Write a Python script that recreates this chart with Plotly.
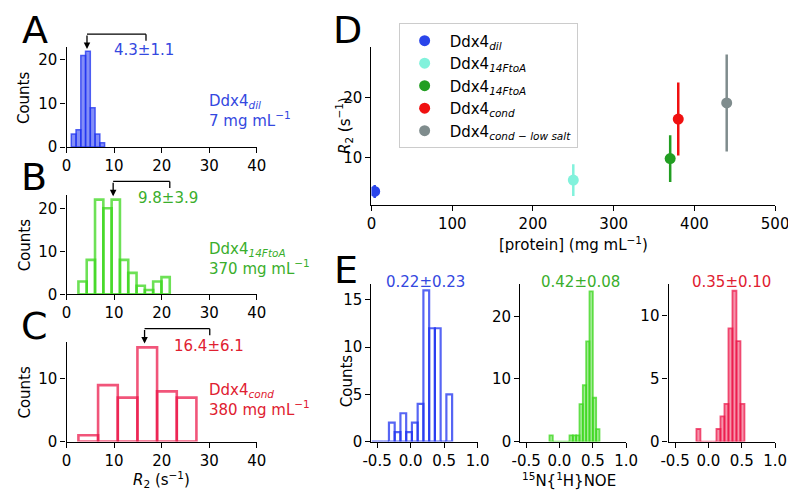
import plotly.graph_objects as go

W, H = 796, 490
FONT = "DejaVu Sans"

# ---------------- data ----------------
# Panel A (Ddx4 dil) R2 histogram
a_edges = [1.0, 2.0, 3.0, 4.0, 5.0, 6.0, 7.0, 8.0]
a_counts = [3, 4, 21, 22, 9, 3, 1]
# Panel B (Ddx4 14FtoA)
b_edges = [2.5, 4.245, 5.99, 7.735, 9.48, 11.225, 12.97, 14.715, 16.46, 18.205, 19.95, 21.695]
b_counts = [3, 8, 22, 20, 22, 8, 5, 2, 1, 3, 4]
# Panel C (Ddx4 cond)
c_edges = [2.5, 6.63, 10.77, 14.9, 19.03, 23.17, 27.3]
c_counts = [1, 9, 7, 15, 8, 7]
# summary stats
r2_means = [4.3, 9.8, 16.4]
r2_sds = [1.1, 3.9, 6.1]
bracket_ends = [16.7, 21.7, 30.1]

# Panel D
d_names = ["Ddx4<sub><i>dil</i></sub>", "Ddx4<sub><i>14FtoA</i></sub>", "Ddx4<sub><i>14FtoA</i></sub>",
           "Ddx4<sub><i>cond</i></sub>", "Ddx4<sub><i>cond − low salt</i></sub>"]
d_conc = [4, 250, 370, 380, 440]
d_r2 = [4.3, 6.2, 9.8, 16.4, 19.1]
d_err = [1.1, 2.65, 3.9, 6.1, 8.1]
d_colors = ["#2a45ea", "#82f2dc", "#229e22", "#f01010", "#7f8c8d"]

# Panel E (hetNOE)
e1_edges = [-0.58 + 0.0857 * i for i in range(15)]
e1_counts = [0, 0, 0, 2, 1, 3, 1, 2, 4, 16, 12, 12, 0, 5]
e2_edges = [-0.15, -0.10, -0.05, 0.0, 0.05, 0.10, 0.15, 0.20, 0.25, 0.30, 0.35, 0.40, 0.45, 0.50, 0.55, 0.60]
e2_counts = [1, 0, 0, 0, 0, 0, 1, 1, 1, 6, 9, 16, 24, 7, 2]
e3_edges = [-0.18, -0.12, -0.06, 0.0, 0.06, 0.12, 0.18, 0.24, 0.30, 0.36, 0.42, 0.48, 0.54]
e3_counts = [1, 0, 0, 0, 0, 1, 2, 3, 9, 12, 8, 3]
noe_means = [0.22, 0.42, 0.35]
noe_sds = [0.23, 0.08, 0.10]

# ---------------- helpers ----------------
def px_x(p):
    return p / W

def px_y(p):
    return 1 - p / H

BLUE = "rgba(30,50,240,0.75)"
GREEN = "rgba(60,215,30,0.75)"
RED = "rgba(235,20,70,0.72)"
BLUE_T = "#3448e0"
GREEN_T = "#3aae2c"
RED_T = "#e02030"

fig = go.Figure()

def hist(edges, counts, ax, color, fill, lw):
    centers = [(edges[i] + edges[i + 1]) / 2 for i in range(len(counts))]
    widths = [edges[i + 1] - edges[i] for i in range(len(counts))]
    fig.add_trace(go.Bar(x=centers, y=counts, width=widths,
                         marker=dict(color=fill, line=dict(color=color, width=lw)),
                         xaxis="x" + ax, yaxis="y" + ax, showlegend=False,
                         hoverinfo="skip"))

hist(a_edges, a_counts, "", BLUE, "rgba(30,50,240,0.55)", 1.5)
hist(b_edges, b_counts, "2", GREEN, "rgba(0,0,0,0)", 2.6)
hist(c_edges, c_counts, "3", RED, "rgba(0,0,0,0)", 2.6)
hist(e1_edges, e1_counts, "5", BLUE, "rgba(0,0,0,0)", 2.2)
hist(e2_edges, e2_counts, "6", GREEN, "rgba(60,215,30,0.45)", 1.8)
hist(e3_edges, e3_counts, "7", RED, "rgba(235,20,70,0.45)", 1.8)

for name, xv, yv, ev, col in zip(d_names, d_conc, d_r2, d_err, d_colors):
    fig.add_trace(go.Scatter(x=[xv], y=[yv], mode="markers", name=name,
                             marker=dict(color=col, size=11),
                             error_y=dict(type="data", array=[ev], color=col, thickness=2.5, width=0),
                             xaxis="x4", yaxis="y4"))

# ---------------- axes ----------------
def axis_common():
    return dict(showline=True, linecolor="black", linewidth=1.3, ticks="outside",
                ticklen=5, tickwidth=1.3, tickcolor="black", showgrid=False,
                zeroline=False, tickfont=dict(family=FONT, size=15, color="black"),
                fixedrange=True)

layout_axes = {}
# (xdomain px, ydomain px(top,bottom), xrange, yrange, xticks, yticks)
specs = {
    "": ((51, 247), (40, 141.7), (0, 40), (0, 22.9), [0, 10, 20, 30, 40], [0, 10, 20]),
    "2": ((51, 247), (190, 291.7), (0, 40), (0, 23.2), [0, 10, 20, 30, 40], [0, 10, 20]),
    "3": ((51, 247), (340, 441.7), (0, 40), (0, 15.9), [0, 10, 20, 30, 40], [0, 10]),
    "4": ((365, 780.7), (40, 200.3), (0, 500), (2.1, 28.4), [0, 100, 200, 300, 400, 500], [10, 20]),
    "5": ((365, 474.3), (281, 441.7), (-0.584, 1.0), (0, 16.7), [-0.5, 0, 0.5, 1.0], [0, 5, 10, 15]),
    "6": ((518.3, 627.3), (281, 441.7), (-0.587, 1.0), (0, 25.2), [-0.5, 0, 0.5, 1.0], [0, 10, 20]),
    "7": ((671, 780.7), (281, 441.7), (-0.597, 1.0), (0, 12.55), [-0.5, 0, 0.5, 1.0], [0, 5, 10]),
}
for k, (xd, yd, xr, yr, xt, yt) in specs.items():
    xa = axis_common()
    xa.update(domain=[px_x(xd[0]), px_x(xd[1])], range=list(xr), anchor="y" + k,
              tickvals=xt, ticklabelstandoff=0)
    if k in ("5", "6", "7"):
        xa["ticktext"] = ["%.1f" % v if v >= 0 else "-%.1f" % abs(v) for v in xt]
    ya = axis_common()
    ya.update(domain=[px_y(yd[1]), px_y(yd[0])], range=list(yr), anchor="x" + k,
              tickvals=yt)
    layout_axes["xaxis" + k] = xa
    layout_axes["yaxis" + k] = ya

fig.update_layout(**layout_axes)

# ---------------- annotations ----------------
ann = []
def text(x, y, s, size=15, color="black", xanchor="center", yanchor="middle", angle=0, align="center"):
    ann.append(dict(x=px_x(x), y=px_y(y), xref="paper", yref="paper", text=s, showarrow=False,
                    font=dict(family=FONT, size=size, color=color), xanchor=xanchor,
                    yanchor=yanchor, textangle=angle, align=align))

# panel letters (centred on glyph centres)
for letter, (lx, ly) in zip("ABCDE", [(19, 22), (18, 172), (18, 324), (340, 22), (339, 267)]):
    text(lx, ly, letter, size=38)

# axis titles
for yc in (91, 241, 391):
    text(8, yc, "Counts", angle=-90)
text(340, 380, "Counts", angle=-90)
text(149, 480, "<i>R</i><sub>2</sub> (s<sup>−1</sup>)")
text(337, 120, "<i>R</i><sub>2</sub> (s<sup>−1</sup>)", angle=-90)
text(573, 240, "[protein] (mg mL<sup>−1</sup>)")
text(568, 481, "<sup>15</sup>N{<sup>1</sup>H}NOE")

# sample labels
text(196, 105, "Ddx4<sub><i>dil</i></sub><br>7 mg mL<sup>−1</sup>", color=BLUE_T, xanchor="left", align="left")
text(196, 256, "Ddx4<sub><i>14FtoA</i></sub><br>370 mg mL<sup>−1</sup>", color=GREEN_T, xanchor="left", align="left")
text(196, 399, "Ddx4<sub><i>cond</i></sub><br>380 mg mL<sup>−1</sup>", color=RED_T, xanchor="left", align="left")

# mean brackets for A-C
shapes = []
ax_ids = ["", "2", "3"]
text_center = [16.3, 21.4, 30.0]
text_y = [0.973, 0.961, 0.961]
cols = [BLUE_T, GREEN_T, RED_T]
for i, k in enumerate(ax_ids):
    xmax = specs[k][2][1]
    xa = "x" + k if k else "x"
    ya = "y" + k if k else "y"
    m = r2_means[i]
    e = bracket_ends[i]
    shapes.append(dict(type="line", xref=xa + " domain", yref=ya + " domain",
                       x0=m / xmax, x1=e / xmax, y0=1.131, y1=1.131,
                       line=dict(color="black", width=1.3)))
    shapes.append(dict(type="line", xref=xa + " domain", yref=ya + " domain",
                       x0=e / xmax, x1=e / xmax, y0=1.131, y1=1.066,
                       line=dict(color="black", width=1.3)))
    ann.append(dict(x=m, y=0.983, xref=xa, yref=ya + " domain", text="", showarrow=True,
                    ax=0, ay=-15, arrowhead=2, arrowsize=1, arrowwidth=1.3, arrowcolor="black"))
    ann.append(dict(x=text_center[i], y=text_y[i], xref=xa, yref=ya + " domain",
                    text="%.1f±%.1f" % (m, r2_sds[i]), showarrow=False, xanchor="center",
                    yanchor="middle", font=dict(family=FONT, size=15, color=cols[i])))

# NOE labels
for xc, m, s, c in zip([421, 580.5, 736], noe_means, noe_sds, [BLUE_T, GREEN_T, RED_T]):
    text(xc, 279, "%.2f±%.2f" % (m, s), color=c)

fig.update_layout(
    width=W, height=H, autosize=False,
    margin=dict(l=0, r=0, t=0, b=0),
    paper_bgcolor="white", plot_bgcolor="white",
    barmode="overlay",
    annotations=ann, shapes=shapes,
    font=dict(family=FONT, size=15, color="black"),
    legend=dict(x=px_x(393), y=px_y(15.7), xanchor="left", yanchor="top",
                bgcolor="white", bordercolor="#cccccc", borderwidth=1,
                font=dict(family=FONT, size=15, color="black"), itemwidth=40,
                tracegroupgap=0),
)

fig.write_html("out.html")
